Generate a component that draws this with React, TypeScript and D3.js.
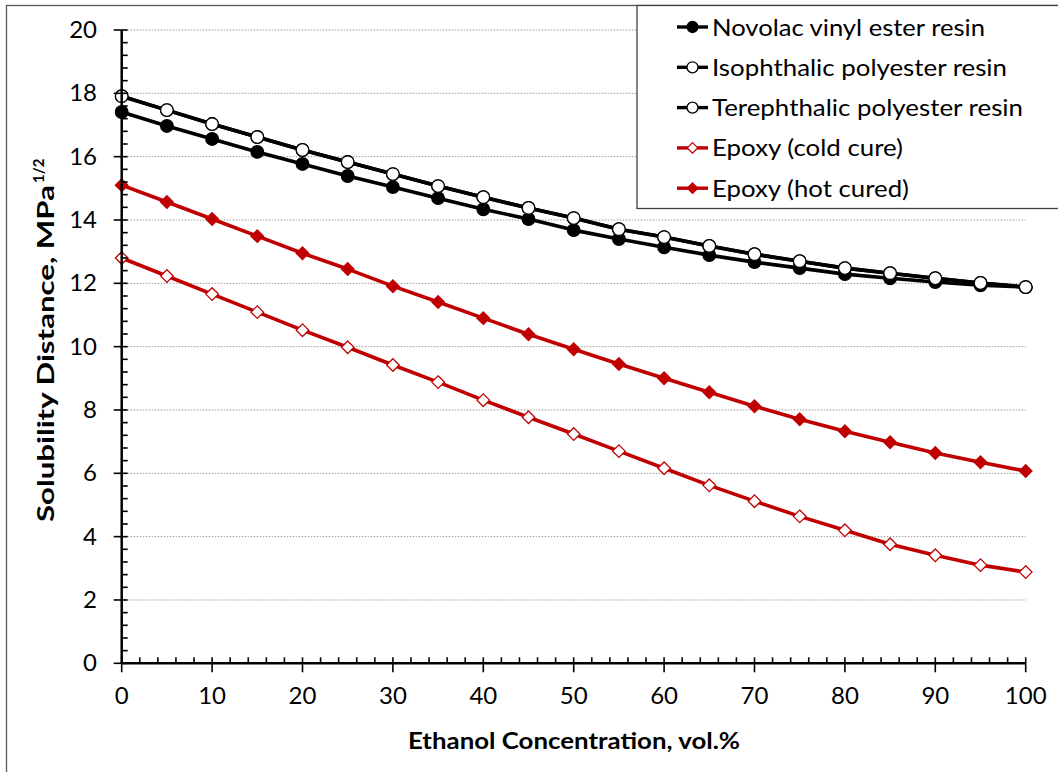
import React from "react";
import * as d3 from "d3";

const ethanol = [0, 5, 10, 15, 20, 25, 30, 35, 40, 45, 50, 55, 60, 65, 70, 75, 80, 85, 90, 95, 100];
const novolac = [17.41, 16.97, 16.56, 16.15, 15.77, 15.39, 15.04, 14.69, 14.34, 14.03, 13.68, 13.40, 13.14, 12.89, 12.67, 12.48, 12.29, 12.16, 12.04, 11.94, 11.88];
const isophthalic = [17.91, 17.47, 17.03, 16.62, 16.21, 15.83, 15.45, 15.07, 14.72, 14.38, 14.06, 13.71, 13.46, 13.18, 12.92, 12.70, 12.48, 12.32, 12.16, 12.01, 11.88];
const terephthalic = [17.91, 17.47, 17.03, 16.62, 16.21, 15.83, 15.45, 15.07, 14.72, 14.38, 14.06, 13.71, 13.46, 13.18, 12.92, 12.70, 12.48, 12.32, 12.16, 12.01, 11.88];
const epoxyCold = [12.80, 12.23, 11.66, 11.09, 10.52, 9.98, 9.42, 8.88, 8.31, 7.77, 7.24, 6.70, 6.16, 5.62, 5.12, 4.64, 4.20, 3.76, 3.41, 3.10, 2.88];
const epoxyHot = [15.10, 14.57, 14.03, 13.49, 12.95, 12.45, 11.91, 11.41, 10.90, 10.39, 9.92, 9.45, 9.00, 8.56, 8.12, 7.71, 7.33, 6.98, 6.64, 6.35, 6.07];

const seriesNames = [
  "Novolac vinyl ester resin",
  "Isophthalic polyester resin",
  "Terephthalic polyester resin",
  "Epoxy (cold cure)",
  "Epoxy (hot cured)",
];
const xTicks = [0, 10, 20, 30, 40, 50, 60, 70, 80, 90, 100];
const yTicks = [0, 2, 4, 6, 8, 10, 12, 14, 16, 18, 20];

const BLACK = "#000000";
const RED = "#C00000";
const FONT = "Lato, 'Open Sans', sans-serif";

type Style = { color: string; marker: "circle" | "diamond"; filled: boolean };
const styles: Style[] = [
  { color: BLACK, marker: "circle", filled: true },
  { color: BLACK, marker: "circle", filled: false },
  { color: BLACK, marker: "circle", filled: false },
  { color: RED, marker: "diamond", filled: false },
  { color: RED, marker: "diamond", filled: true },
];
const seriesData = [novolac, isophthalic, terephthalic, epoxyCold, epoxyHot];
const legendWidths = [273, 295, 311, 191, 197];

function Marker({ x, y, s, size }: { x: number; y: number; s: Style; size: number }) {
  const fill = s.filled ? s.color : "#fff";
  if (s.marker === "circle") {
    return <circle cx={x} cy={y} r={size} fill={fill} stroke={s.color} strokeWidth={1.3} />;
  }
  const d = size * 1.05;
  return (
    <path
      d={`M${x},${y - d}L${x + d},${y}L${x},${y + d}L${x - d},${y}Z`}
      fill={fill}
      stroke={s.color}
      strokeWidth={1.3}
    />
  );
}

export default function App() {
  const W = 1058;
  const H = 772;
  const x = d3.scaleLinear().domain([0, 100]).range([121.7, 1025.7]);
  const y = d3.scaleLinear().domain([0, 20]).range([663.3, 30]);
  const line = d3
    .line<number>()
    .x((_, i) => x(ethanol[i]))
    .y((v) => y(v));

  const xMinor = d3.range(0, 100.001, 2).filter((v) => v % 10 !== 0);
  const yMinor = d3.range(0, 20.001, 0.4).filter((v) => Math.abs(v / 2 - Math.round(v / 2)) > 1e-6);

  const legendX = 637;
  const legendRow0 = 27;
  const legendStep = 40.3;

  return (
    <svg
      width={W}
      height={H}
      style={{ position: "absolute", left: 0, top: 0, display: "block", background: "#fff" }}
      fontFamily={FONT}
    >
      <rect x={0} y={0} width={W} height={H} fill="#fff" />
      {/* outer chart frame */}
      <rect x={6.5} y={5.5} width={W + 20} height={H + 20} fill="none" stroke="#595959" strokeWidth={1.3} />

      {/* gridlines */}
      {yTicks.filter((t) => t > 0).map((t) => (
        <line
          key={"g" + t}
          x1={x(0)}
          x2={x(100)}
          y1={y(t)}
          y2={y(t)}
          stroke="#9a9a9a"
          strokeWidth={1}
          strokeDasharray="1.5 1.5"
        />
      ))}

      {/* series */}
      {seriesData.map((data, si) => (
        <g key={"s" + si}>
          <path d={line(data) || ""} fill="none" stroke={styles[si].color} strokeWidth={3.6} strokeLinejoin="round" />
          {data.map((v, i) => (
            <Marker key={i} x={x(ethanol[i])} y={y(v)} s={styles[si]} size={si < 3 ? 6.3 : 6} />
          ))}
        </g>
      ))}

      {/* y axis */}
      <line x1={x(0)} x2={x(0)} y1={y(20)} y2={y(0)} stroke={BLACK} strokeWidth={2.5} />
      {yTicks.map((t) => (
        <line key={"yt" + t} x1={x(0) - 8} x2={x(0) + 6} y1={y(t)} y2={y(t)} stroke={BLACK} strokeWidth={1.6} />
      ))}
      {yMinor.map((t) => (
        <line key={"ym" + t} x1={x(0)} x2={x(0) + 6} y1={y(t)} y2={y(t)} stroke={BLACK} strokeWidth={1.6} />
      ))}
      {yTicks.map((t) => (
        <text key={"yl" + t} x={97} y={y(t) + 8} textAnchor="end" fontSize={24} fill="#000">
          {t}
        </text>
      ))}

      {/* x axis */}
      <line x1={x(0)} x2={x(100)} y1={y(0)} y2={y(0)} stroke={BLACK} strokeWidth={2.5} />
      {xTicks.map((t) => (
        <line key={"xt" + t} x1={x(t)} x2={x(t)} y1={y(0) - 6} y2={y(0) + 9} stroke={BLACK} strokeWidth={1.6} />
      ))}
      {xMinor.map((t) => (
        <line key={"xm" + t} x1={x(t)} x2={x(t)} y1={y(0) - 6} y2={y(0)} stroke={BLACK} strokeWidth={1.6} />
      ))}
      {xTicks.map((t) => (
        <text key={"xl" + t} x={x(t)} y={704} textAnchor="middle" fontSize={24} fill="#000">
          {t}
        </text>
      ))}

      {/* axis titles */}
      <text
        x={408}
        y={749}
        fontSize={23}
        fontWeight="bold"
        fill="#000"
        textLength={332}
        lengthAdjust="spacingAndGlyphs"
      >
        Ethanol Concentration, vol.%
      </text>
      <g transform="translate(54, 522) rotate(-90)">
        <text x={0} y={0} fontSize={23} fontWeight="bold" fill="#000" textLength={337} lengthAdjust="spacingAndGlyphs">
          Solubility Distance, MPa
        </text>
        <text x={339} y={-10} fontSize={15} fontWeight="bold" fill="#000">
          1/2
        </text>
      </g>

      {/* legend */}
      <rect x={legendX} y={5.5} width={W} height={203} fill="#fff" stroke="#404040" strokeWidth={1.3} />
      {seriesNames.map((name, i) => {
        const cy = legendRow0 + i * legendStep;
        return (
          <g key={"lg" + i}>
            <line x1={677} x2={708} y1={cy} y2={cy} stroke={styles[i].color} strokeWidth={3.4} />
            <Marker x={692.5} y={cy} s={styles[i]} size={i < 3 ? 5.5 : 5} />
            <text
              x={712}
              y={cy + 8.5}
              fontSize={24}
              fill="#000"
              textLength={legendWidths[i]}
              lengthAdjust="spacingAndGlyphs"
            >
              {name}
            </text>
          </g>
        );
      })}
    </svg>
  );
}
